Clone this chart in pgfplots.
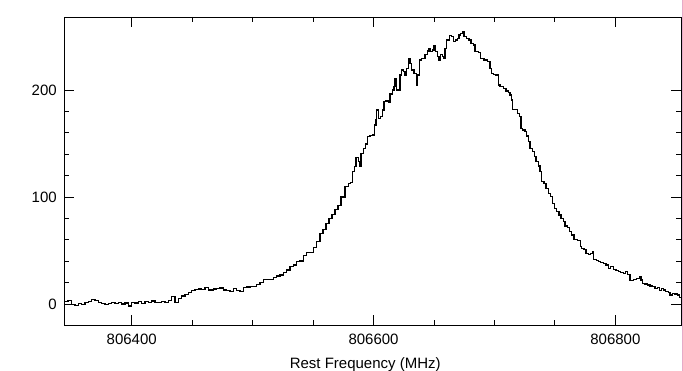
\documentclass[border=0pt]{standalone}
\usepackage{fontspec}
\setmainfont{Liberation Sans}
\usepackage{pgfplots}
\pgfplotsset{compat=1.18}
\definecolor{edgepink}{RGB}{230,170,200}
\begin{document}
\begin{tikzpicture}
\path[use as bounding box] (-64.3pt,-46pt) rectangle (618.7pt,325pt);
\draw[edgepink, line width=0.7pt] (618.1pt,-46pt) -- (618.1pt,325pt);
\begin{axis}[
  scale only axis, width=616.7pt, height=308pt,
  xmin=344.25, xmax=854.3, ymin=-19.6, ymax=268.2,
  xtick={400,600,800}, xticklabels={806400,806600,806800},
  ytick={0,100,200},
  minor x tick num=3, minor y tick num=4,
  tick align=inside, tick pos=both,
  major tick length=10pt, minor tick length=5pt,
  tick style={black, line width=0.8pt},
  axis line style={line width=0.8pt},
  tick label style={font=\fontsize{15}{18}\selectfont},
  /pgf/number format/assume math mode=true,
  xticklabel shift=5pt, yticklabel shift=4pt,
  xlabel={Rest Frequency (MHz)},
  xlabel style={at={(axis description cs:0.488,0)}, anchor=north, yshift=-29pt, font=\fontsize{15}{18}\selectfont},
]
\addplot[const plot, black, line width=1.2pt] table {
x y
344.8 2.2
347.3 3.0
350.4 -0.3
353.1 -1.3
355.8 0.3
358.6 -0.3
361.4 1.2
364.1 2.2
366.9 4.4
369.6 3.2
372.4 1.2
375.2 0.6
377.9 -0.6
380.6 0.6
383.5 1.2
386.2 0.6
388.9 1.6
391.7 0.0
394.5 0.9
397.2 -1.9
400.0 1.6
402.7 0.9
405.5 2.2
408.3 0.6
411.0 2.2
413.7 1.6
416.5 2.8
419.3 1.6
422.0 1.6
424.8 2.2
427.5 1.2
430.3 3.2
433.1 6.9
435.8 1.6
438.5 5.3
441.4 7.5
444.1 9.1
446.8 10.9
449.6 12.5
452.4 13.4
455.1 14.0
457.9 13.7
460.6 15.3
463.4 13.1
464.8 13.1
467.5 14.0
470.3 14.3
473.0 14.9
475.8 13.1
478.6 12.5
481.3 11.5
484.0 14.3
486.8 12.5
489.6 11.5
492.3 15.6
495.1 15.9
497.8 16.2
500.6 16.5
503.4 18.4
506.1 19.9
508.8 23.0
511.7 23.0
514.4 23.0
517.1 25.0
519.9 26.2
522.7 27.1
525.4 29.3
528.2 31.8
530.9 34.9
533.7 36.4
536.5 39.5
539.2 40.2
541.9 45.2
544.7 48.3
547.5 48.3
550.2 52.9
553.0 58.2
555.7 66.0
558.2 70.0
560.7 75.0
563.2 80.0
565.7 84.0
568.1 88.0
570.6 92.0
573.1 100.0
576.4 109.7
579.2 112.8
581.1 113.7
582.5 123.7
584.1 128.4
585.5 137.1
587.4 133.0
588.2 129.0
589.7 140.8
591.6 145.5
593.5 149.5
595.2 156.4
597.1 157.3
599.0 158.0
600.7 167.3
602.1 172.0
602.6 181.3
604.0 173.5
606.0 175.1
607.6 181.3
608.7 189.1
610.3 189.7
612.2 188.5
613.6 196.3
615.9 200.0
617.0 203.1
617.8 210.9
618.9 200.0
620.5 200.0
621.9 214.0
623.3 218.7
624.6 217.1
626.1 214.0
627.5 220.2
628.8 229.5
630.2 224.9
631.6 218.7
633.5 215.6
634.3 215.6
635.7 204.7
636.5 214.0
637.9 228.0
639.9 229.6
641.2 229.6
642.6 233.3
644.5 236.4
645.9 238.9
647.3 235.8
648.6 237.4
650.0 241.4
651.4 235.8
652.8 231.1
654.2 228.0
655.6 233.3
656.9 231.1
657.7 229.6
659.1 238.9
660.5 246.7
662.7 250.7
664.7 249.8
666.0 245.1
668.0 246.7
669.3 248.2
670.7 251.4
672.1 252.9
673.4 254.5
674.8 249.8
677.1 248.2
679.0 246.7
680.6 243.5
682.5 242.0
683.9 235.8
686.7 235.1
688.7 229.6
691.4 228.0
694.1 226.5
696.4 220.2
697.8 215.6
699.1 214.6
701.3 214.0
703.2 204.7
704.6 203.0
707.3 201.6
709.6 199.0
711.5 197.5
712.9 195.3
714.3 190.7
715.1 182.0
717.0 182.0
718.9 178.2
720.6 175.1
722.0 164.2
723.4 162.6
725.3 161.1
726.7 157.0
728.0 151.7
729.4 145.5
731.3 142.4
733.0 137.7
734.4 133.0
736.3 129.0
737.7 123.7
739.1 114.3
741.0 112.8
742.7 108.1
744.6 103.4
746.6 100.3
748.2 94.1
749.5 89.4
751.5 86.3
753.4 83.2
755.1 80.1
757.0 77.0
758.4 72.9
760.3 71.7
761.9 67.6
763.9 64.5
765.8 60.4
768.6 59.2
771.4 53.6
772.2 52.0
774.1 51.1
775.8 47.4
777.7 46.4
779.6 47.4
781.0 49.0
781.8 41.8
784.6 40.5
785.9 39.6
787.9 38.7
790.1 38.0
792.3 36.4
794.2 33.3
796.2 34.9
798.3 32.4
800.6 31.2
802.5 30.2
804.5 29.3
806.6 28.7
808.6 30.2
810.2 27.7
812.1 21.8
814.9 23.1
817.7 24.0
819.8 25.5
821.2 22.4
822.7 19.3
824.6 18.7
826.5 17.8
828.7 16.8
830.6 16.2
832.8 14.6
834.7 15.3
836.4 12.5
838.4 14.6
839.7 13.1
841.7 11.5
843.8 10.6
845.2 8.4
847.5 10.0
849.4 9.3
851.3 8.4
852.9 6.2
854.3 5.3
};
\end{axis}
\end{tikzpicture}
\end{document}
